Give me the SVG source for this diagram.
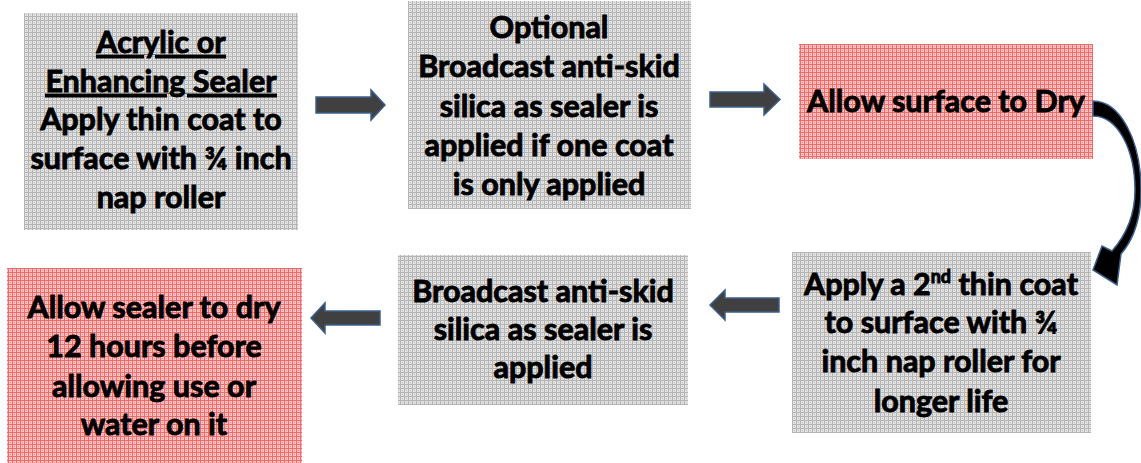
<svg xmlns="http://www.w3.org/2000/svg" width="1141" height="463" viewBox="0 0 1141 463">
<defs>
<pattern id="pg" width="4" height="4" patternUnits="userSpaceOnUse">
<rect width="4" height="4" fill="#e2e2e2"/>
<rect x="0" y="0" width="4" height="1" fill="#b4b4b4"/>
<rect x="0" y="0" width="1" height="4" fill="#b4b4b4"/>
<rect x="2" y="2" width="1" height="1" fill="#c4c4c4"/>
</pattern>
<pattern id="pr" width="4" height="4" patternUnits="userSpaceOnUse">
<rect width="4" height="4" fill="#fbc4c4"/>
<rect x="0" y="0" width="4" height="1" fill="#f06a6a"/>
<rect x="0" y="0" width="1" height="4" fill="#f06a6a"/>
<rect x="2" y="2" width="1" height="1" fill="#f49090"/>
</pattern>
<style>
.g{fill:url(#pg)}
.r{fill:url(#pr)}
text{font-family:Lato,"Open Sans","Liberation Sans",sans-serif;font-weight:bold;font-size:30.5px;fill:#000;stroke:#000;stroke-width:0.9;text-anchor:middle}
.u{text-decoration:underline}
.ar{fill:#404040;stroke:#3b5f8c;stroke-width:1.5}
.cv{fill:#000;stroke:#3b5f8c;stroke-width:1.5}
</style>
</defs>
<g id="n1">
<rect class="g" x="24" y="13" width="274" height="217"/>
<text x="161" y="53" class="u">Acrylic or</text>
<text x="161" y="92" class="u">Enhancing Sealer</text>
<text x="161" y="130">Apply thin coat to</text>
<text x="161" y="169">surface with ¾ inch</text>
<text x="161" y="208">nap roller</text>
</g>
<g id="n2">
<rect class="g" x="408" y="1" width="283" height="208"/>
<text x="549" y="38">Optional</text>
<text x="549" y="77">Broadcast anti-skid</text>
<text x="549" y="117">silica as sealer is</text>
<text x="549" y="156">applied if one coat</text>
<text x="549" y="195">is only applied</text>
</g>
<g id="n3">
<rect class="r" x="799" y="44" width="294" height="115"/>
<text x="946" y="112">Allow surface to Dry</text>
</g>
<g id="n4">
<rect class="g" x="792" y="252" width="299" height="181"/>
<text x="941" y="295">Apply a 2<tspan font-size="18" dy="-12">nd</tspan><tspan dy="12"> thin coat</tspan></text>
<text x="941" y="333">to surface with ¾</text>
<text x="941" y="372">inch nap roller for</text>
<text x="941" y="412">longer life</text>
</g>
<g id="n5">
<rect class="g" x="398" y="255" width="290" height="150"/>
<text x="543" y="302">Broadcast anti-skid</text>
<text x="543" y="340">silica as sealer is</text>
<text x="543" y="378">applied</text>
</g>
<g id="n6">
<rect class="r" x="7" y="268" width="295" height="195"/>
<text x="154" y="318">Allow sealer to dry</text>
<text x="154" y="357">12 hours before</text>
<text x="154" y="397">allowing use or</text>
<text x="154" y="435">water on it</text>
</g>
<g id="connectors">
<path class="ar" d="M316 97 H371 V90 L385 105 L371 120 V113 H316 Z"/>
<path class="ar" d="M710 92 H764 V84 L780 99.5 L764 115 V107 H710 Z"/>
<path class="ar" d="M779 298 H725 V290 L710 305 L725 320 V312 H779 Z"/>
<path class="ar" d="M380 311 H325 V303 L311 318 L325 333 V325 H380 Z"/>
<path class="cv" d="M1093 101 C1120 101 1141 140 1141 190 C1141 220 1133 240 1121 254 L1117 285 L1093 270 L1102 246 L1112 251 C1127 234 1135 212 1135 190 C1135 150 1118 116 1093 116 Z"/>
</g>
</svg>
